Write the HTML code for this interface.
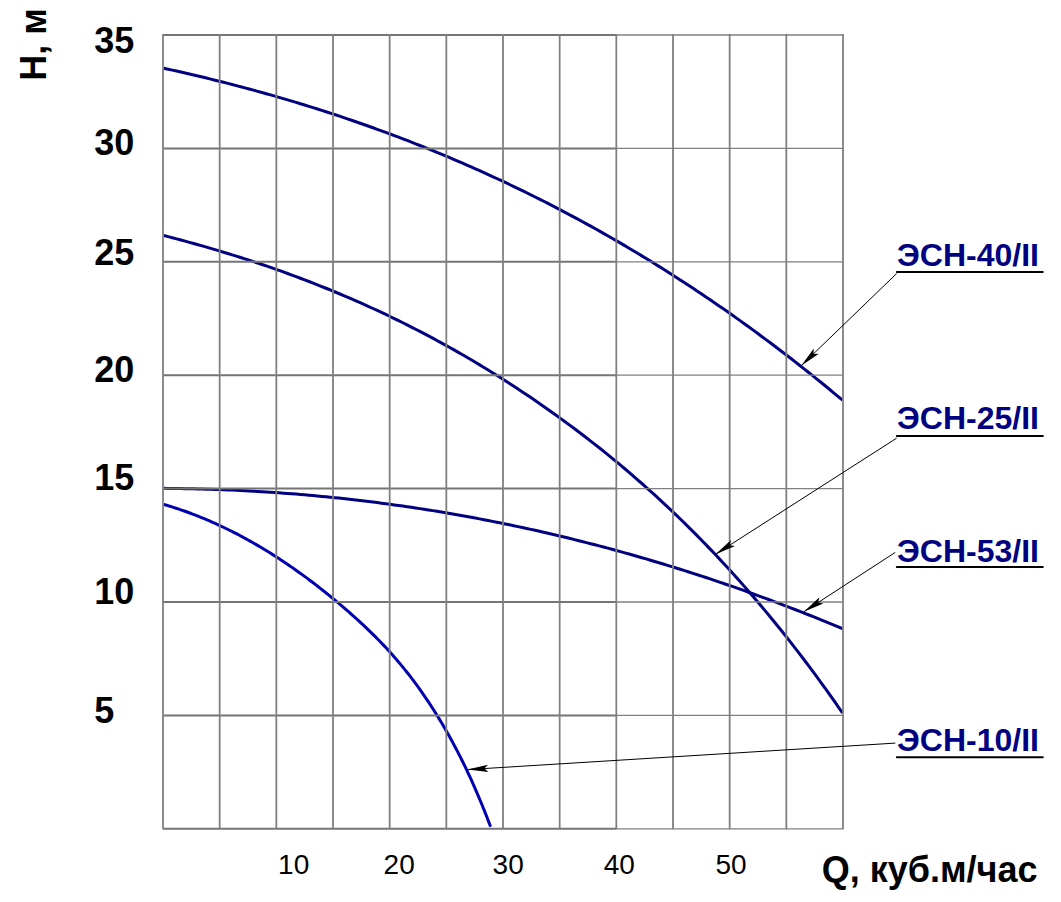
<!DOCTYPE html>
<html><head><meta charset="utf-8"><style>
html,body{margin:0;padding:0;background:#fff;}
body{width:1061px;height:902px;overflow:hidden;}
svg{display:block;}
text{font-family:"Liberation Sans",sans-serif;}
.b{font-weight:bold;}
</style></head><body>
<svg width="1061" height="902" viewBox="0 0 1061 902">
<path d="M163.80,68.25 L168.07,69.18 L172.34,70.13 L176.61,71.08 L180.87,72.05 L185.14,73.03 L189.41,74.01 L193.68,75.01 L197.95,76.02 L202.22,77.04 L206.49,78.07 L210.75,79.11 L215.02,80.17 L219.29,81.23 L223.56,82.31 L227.83,83.39 L232.10,84.49 L236.37,85.60 L240.63,86.72 L244.90,87.86 L249.17,89.00 L253.44,90.16 L257.71,91.33 L261.98,92.51 L266.25,93.71 L270.51,94.92 L274.78,96.13 L279.05,97.37 L283.32,98.61 L287.59,99.87 L291.86,101.13 L296.13,102.42 L300.39,103.71 L304.66,105.02 L308.93,106.34 L313.20,107.67 L317.47,109.02 L321.74,110.38 L326.01,111.75 L330.27,113.14 L334.54,114.54 L338.81,115.95 L343.08,117.38 L347.35,118.82 L351.62,120.27 L355.88,121.74 L360.15,123.22 L364.42,124.72 L368.69,126.23 L372.96,127.75 L377.23,129.29 L381.50,130.85 L385.76,132.41 L390.03,134.00 L394.30,135.59 L398.57,137.20 L402.84,138.83 L407.11,140.47 L411.38,142.13 L415.64,143.80 L419.91,145.48 L424.18,147.18 L428.45,148.90 L432.72,150.63 L436.99,152.38 L441.26,154.14 L445.52,155.92 L449.79,157.71 L454.06,159.52 L458.33,161.34 L462.60,163.18 L466.87,165.04 L471.14,166.91 L475.40,168.80 L479.67,170.71 L483.94,172.63 L488.21,174.57 L492.48,176.52 L496.75,178.49 L501.02,180.48 L505.28,182.48 L509.55,184.50 L513.82,186.54 L518.09,188.59 L522.36,190.66 L526.63,192.75 L530.90,194.86 L535.16,196.98 L539.43,199.12 L543.70,201.27 L547.97,203.45 L552.24,205.64 L556.51,207.85 L560.78,210.08 L565.04,212.32 L569.31,214.58 L573.58,216.86 L577.85,219.16 L582.12,221.48 L586.39,223.82 L590.66,226.17 L594.92,228.54 L599.19,230.93 L603.46,233.34 L607.73,235.77 L612.00,238.21 L616.27,240.67 L620.54,243.16 L624.80,245.66 L629.07,248.18 L633.34,250.72 L637.61,253.28 L641.88,255.86 L646.15,258.46 L650.42,261.07 L654.68,263.71 L658.95,266.36 L663.22,269.04 L667.49,271.74 L671.76,274.45 L676.03,277.19 L680.29,279.94 L684.56,282.71 L688.83,285.51 L693.10,288.32 L697.37,291.16 L701.64,294.01 L705.91,296.89 L710.17,299.79 L714.44,302.70 L718.71,305.64 L722.98,308.60 L727.25,311.58 L731.52,314.58 L735.79,317.60 L740.05,320.64 L744.32,323.70 L748.59,326.79 L752.86,329.89 L757.13,333.02 L761.40,336.17 L765.67,339.34 L769.93,342.53 L774.20,345.74 L778.47,348.98 L782.74,352.23 L787.01,355.51 L791.28,358.81 L795.55,362.14 L799.81,365.48 L804.08,368.85 L808.35,372.24 L812.62,375.65 L816.89,379.08 L821.16,382.54 L825.43,386.02 L829.69,389.52 L833.96,393.04 L838.23,396.59 L842.50,400.16" stroke="#000080" stroke-width="3" fill="none"/>
<path d="M163.80,235.56 L168.07,236.65 L172.34,237.76 L176.61,238.88 L180.87,240.02 L185.14,241.17 L189.41,242.33 L193.68,243.51 L197.95,244.71 L202.22,245.91 L206.49,247.14 L210.75,248.38 L215.02,249.63 L219.29,250.90 L223.56,252.19 L227.83,253.49 L232.10,254.81 L236.37,256.14 L240.63,257.49 L244.90,258.86 L249.17,260.24 L253.44,261.64 L257.71,263.06 L261.98,264.50 L266.25,265.95 L270.51,267.42 L274.78,268.91 L279.05,270.42 L283.32,271.94 L287.59,273.49 L291.86,275.05 L296.13,276.63 L300.39,278.23 L304.66,279.85 L308.93,281.49 L313.20,283.15 L317.47,284.83 L321.74,286.52 L326.01,288.24 L330.27,289.98 L334.54,291.74 L338.81,293.51 L343.08,295.31 L347.35,297.13 L351.62,298.97 L355.88,300.84 L360.15,302.72 L364.42,304.63 L368.69,306.55 L372.96,308.50 L377.23,310.47 L381.50,312.47 L385.76,314.48 L390.03,316.52 L394.30,318.58 L398.57,320.67 L402.84,322.77 L407.11,324.90 L411.38,327.06 L415.64,329.23 L419.91,331.44 L424.18,333.66 L428.45,335.91 L432.72,338.19 L436.99,340.48 L441.26,342.81 L445.52,345.16 L449.79,347.53 L454.06,349.93 L458.33,352.35 L462.60,354.80 L466.87,357.28 L471.14,359.78 L475.40,362.30 L479.67,364.86 L483.94,367.44 L488.21,370.04 L492.48,372.68 L496.75,375.34 L501.02,378.03 L505.28,380.74 L509.55,383.48 L513.82,386.25 L518.09,389.05 L522.36,391.88 L526.63,394.73 L530.90,397.61 L535.16,400.52 L539.43,403.46 L543.70,406.43 L547.97,409.43 L552.24,412.46 L556.51,415.51 L560.78,418.60 L565.04,421.72 L569.31,424.86 L573.58,428.04 L577.85,431.25 L582.12,434.49 L586.39,437.76 L590.66,441.07 L594.92,444.41 L599.19,447.78 L603.46,451.19 L607.73,454.63 L612.00,458.11 L616.27,461.62 L620.54,465.18 L624.80,468.76 L629.07,472.39 L633.34,476.05 L637.61,479.76 L641.88,483.50 L646.15,487.28 L650.42,491.10 L654.68,494.96 L658.95,498.86 L663.22,502.81 L667.49,506.80 L671.76,510.83 L676.03,514.90 L680.29,519.02 L684.56,523.18 L688.83,527.38 L693.10,531.64 L697.37,535.93 L701.64,540.28 L705.91,544.67 L710.17,549.10 L714.44,553.59 L718.71,558.12 L722.98,562.71 L727.25,567.34 L731.52,572.02 L735.79,576.75 L740.05,581.54 L744.32,586.37 L748.59,591.26 L752.86,596.20 L757.13,601.19 L761.40,606.24 L765.67,611.34 L769.93,616.50 L774.20,621.71 L778.47,626.97 L782.74,632.29 L787.01,637.67 L791.28,643.11 L795.55,648.60 L799.81,654.15 L804.08,659.76 L808.35,665.43 L812.62,671.16 L816.89,676.95 L821.16,682.80 L825.43,688.71 L829.69,694.69 L833.96,700.72 L838.23,706.82 L842.50,712.98" stroke="#000080" stroke-width="3" fill="none"/>
<path d="M163.80,488.37 L168.07,488.40 L172.34,488.45 L176.61,488.50 L180.87,488.56 L185.14,488.63 L189.41,488.71 L193.68,488.81 L197.95,488.91 L202.22,489.02 L206.49,489.14 L210.75,489.28 L215.02,489.42 L219.29,489.58 L223.56,489.74 L227.83,489.91 L232.10,490.10 L236.37,490.29 L240.63,490.50 L244.90,490.72 L249.17,490.94 L253.44,491.18 L257.71,491.43 L261.98,491.68 L266.25,491.95 L270.51,492.23 L274.78,492.52 L279.05,492.82 L283.32,493.13 L287.59,493.45 L291.86,493.78 L296.13,494.12 L300.39,494.47 L304.66,494.83 L308.93,495.20 L313.20,495.59 L317.47,495.98 L321.74,496.39 L326.01,496.80 L330.27,497.23 L334.54,497.66 L338.81,498.11 L343.08,498.57 L347.35,499.03 L351.62,499.51 L355.88,500.00 L360.15,500.50 L364.42,501.01 L368.69,501.53 L372.96,502.07 L377.23,502.61 L381.50,503.16 L385.76,503.73 L390.03,504.30 L394.30,504.89 L398.57,505.48 L402.84,506.09 L407.11,506.71 L411.38,507.34 L415.64,507.98 L419.91,508.63 L424.18,509.29 L428.45,509.96 L432.72,510.64 L436.99,511.34 L441.26,512.04 L445.52,512.76 L449.79,513.49 L454.06,514.22 L458.33,514.97 L462.60,515.73 L466.87,516.50 L471.14,517.28 L475.40,518.08 L479.67,518.88 L483.94,519.69 L488.21,520.52 L492.48,521.36 L496.75,522.20 L501.02,523.06 L505.28,523.93 L509.55,524.81 L513.82,525.71 L518.09,526.61 L522.36,527.52 L526.63,528.45 L530.90,529.39 L535.16,530.33 L539.43,531.29 L543.70,532.26 L547.97,533.24 L552.24,534.24 L556.51,535.24 L560.78,536.26 L565.04,537.28 L569.31,538.32 L573.58,539.37 L577.85,540.43 L582.12,541.50 L586.39,542.58 L590.66,543.68 L594.92,544.78 L599.19,545.90 L603.46,547.03 L607.73,548.17 L612.00,549.32 L616.27,550.48 L620.54,551.65 L624.80,552.84 L629.07,554.03 L633.34,555.24 L637.61,556.46 L641.88,557.69 L646.15,558.93 L650.42,560.19 L654.68,561.45 L658.95,562.73 L663.22,564.02 L667.49,565.32 L671.76,566.63 L676.03,567.95 L680.29,569.28 L684.56,570.63 L688.83,571.99 L693.10,573.36 L697.37,574.74 L701.64,576.13 L705.91,577.53 L710.17,578.95 L714.44,580.38 L718.71,581.82 L722.98,583.27 L727.25,584.73 L731.52,586.20 L735.79,587.69 L740.05,589.19 L744.32,590.70 L748.59,592.22 L752.86,593.75 L757.13,595.29 L761.40,596.85 L765.67,598.42 L769.93,600.00 L774.20,601.59 L778.47,603.19 L782.74,604.81 L787.01,606.44 L791.28,608.08 L795.55,609.73 L799.81,611.39 L804.08,613.06 L808.35,614.75 L812.62,616.45 L816.89,618.16 L821.16,619.88 L825.43,621.62 L829.69,623.36 L833.96,625.12 L838.23,626.89 L842.50,628.68" stroke="#000080" stroke-width="3" fill="none"/>
<path d="M163.80,504.44 L165.86,505.04 L167.91,505.65 L169.97,506.28 L172.02,506.92 L174.08,507.57 L176.13,508.24 L178.19,508.92 L180.24,509.61 L182.30,510.32 L184.35,511.04 L186.41,511.77 L188.46,512.52 L190.52,513.28 L192.57,514.05 L194.63,514.84 L196.69,515.64 L198.74,516.45 L200.80,517.28 L202.85,518.12 L204.91,518.97 L206.96,519.84 L209.02,520.72 L211.07,521.61 L213.13,522.52 L215.18,523.44 L217.24,524.37 L219.29,525.32 L221.35,526.28 L223.41,527.25 L225.46,528.24 L227.52,529.24 L229.57,530.25 L231.63,531.28 L233.68,532.32 L235.74,533.37 L237.79,534.44 L239.85,535.52 L241.90,536.61 L243.96,537.72 L246.01,538.84 L248.07,539.97 L250.12,541.12 L252.18,542.28 L254.24,543.45 L256.29,544.64 L258.35,545.84 L260.40,547.05 L262.46,548.28 L264.51,549.52 L266.57,550.78 L268.62,552.04 L270.68,553.33 L272.73,554.62 L274.79,555.93 L276.84,557.25 L278.90,558.58 L280.95,559.93 L283.01,561.29 L285.07,562.67 L287.12,564.05 L289.18,565.46 L291.23,566.87 L293.29,568.30 L295.34,569.74 L297.40,571.20 L299.45,572.67 L301.51,574.15 L303.56,575.64 L305.62,577.15 L307.67,578.67 L309.73,580.21 L311.78,581.76 L313.84,583.32 L315.90,584.90 L317.95,586.49 L320.01,588.09 L322.06,589.71 L324.12,591.34 L326.17,592.98 L328.23,594.64 L330.28,596.31 L332.34,597.99 L334.39,599.69 L336.45,601.40 L338.50,603.13 L340.56,604.86 L342.62,606.61 L344.67,608.38 L346.73,610.16 L348.78,611.95 L350.84,613.75 L352.89,615.57 L354.95,617.41 L357.00,619.26 L359.06,621.14 L361.11,623.03 L363.17,624.94 L365.22,626.87 L367.28,628.82 L369.33,630.80 L371.39,632.80 L373.45,634.82 L375.50,636.87 L377.56,638.95 L379.61,641.06 L381.67,643.19 L383.72,645.36 L385.78,647.55 L387.83,649.78 L389.89,652.04 L391.94,654.34 L394.00,656.67 L396.05,659.03 L398.11,661.44 L400.16,663.88 L402.22,666.36 L404.28,668.88 L406.33,671.45 L408.39,674.05 L410.44,676.70 L412.50,679.39 L414.55,682.13 L416.61,684.91 L418.66,687.74 L420.72,690.62 L422.77,693.55 L424.83,696.53 L426.88,699.56 L428.94,702.64 L430.99,705.78 L433.05,708.97 L435.11,712.21 L437.16,715.52 L439.22,718.87 L441.27,722.29 L443.33,725.77 L445.38,729.31 L447.44,732.91 L449.49,736.57 L451.55,740.30 L453.60,744.09 L455.66,747.96 L457.71,751.90 L459.77,755.91 L461.83,760.00 L463.88,764.18 L465.94,768.43 L467.99,772.77 L470.05,777.20 L472.10,781.72 L474.16,786.33 L476.21,791.03 L478.27,795.83 L480.32,800.74 L482.38,805.74 L484.43,810.85 L486.49,816.06 L488.54,821.39 L490.60,826.82" stroke="#0000b0" stroke-width="3" fill="none"/>
<path d="M163.00,35.00 H616.33 M163.00,148.40 H616.33 M163.00,261.80 H616.33 M163.00,375.20 H616.33 M163.00,488.60 H616.33 M163.00,602.00 H616.33 M163.00,715.40 H616.33 M163.00,828.80 H616.33" stroke="#757575" stroke-width="2.0" fill="none"/>
<path d="M616.33,35.00 H843.00 M616.33,148.40 H843.00 M616.33,261.80 H843.00 M616.33,375.20 H843.00 M616.33,488.60 H843.00 M616.33,602.00 H843.00 M616.33,715.40 H843.00 M616.33,828.80 H843.00" stroke="#808080" stroke-width="1.3" fill="none"/>
<path d="M163.00,34.00 V829.30 M219.67,34.00 V829.30 M276.33,34.00 V829.30 M333.00,34.00 V829.30 M389.67,34.00 V829.30 M446.33,34.00 V829.30 M503.00,34.00 V829.30 M559.67,34.00 V829.30 M616.33,34.00 V829.30 M673.00,34.00 V829.30 M729.67,34.00 V829.30 M786.33,34.00 V829.30 M843.00,34.00 V829.30" stroke="#808080" stroke-width="1.8" fill="none"/>
<text class="b" x="94.2" y="53.0" font-size="36" fill="#000">35</text>
<text class="b" x="94.2" y="155.0" font-size="36" fill="#000">30</text>
<text class="b" x="94.2" y="264.6" font-size="36" fill="#000">25</text>
<text class="b" x="94.2" y="381.6" font-size="36" fill="#000">20</text>
<text class="b" x="94.2" y="489.7" font-size="36" fill="#000">15</text>
<text class="b" x="94.2" y="604.4" font-size="36" fill="#000">10</text>
<text class="b" x="94.2" y="723.0" font-size="36" fill="#000">5</text>
<text x="278.1" y="873.8" font-size="28" fill="#000">10</text>
<text x="383.6" y="873.8" font-size="28" fill="#000">20</text>
<text x="492.6" y="873.8" font-size="28" fill="#000">30</text>
<text x="603.8" y="873.8" font-size="28" fill="#000">40</text>
<text x="715.4" y="873.8" font-size="28" fill="#000">50</text>
<text class="b" x="821.7" y="882.0" font-size="36" fill="#000">Q, куб.м/час</text>
<text class="b" transform="translate(45.5,80.7) rotate(-90)" x="0" y="0" font-size="36" fill="#000">H, м</text>
<text class="b" x="897.1" y="265.5" font-size="32" fill="#000080">ЭСН-40/II</text>
<line x1="896.8" y1="272.00" x2="1042.8" y2="272.00" stroke="#000" stroke-width="2" stroke-linecap="round"/>
<line x1="896.6" y1="273.6" x2="801.2" y2="365.7" stroke="#000" stroke-width="1.0"/>
<path d="M801.20,365.70 L818.81,353.70 L813.43,353.89 L813.81,348.52 Z" fill="#000"/>
<text class="b" x="897.1" y="429.0" font-size="32" fill="#000080">ЭСН-25/II</text>
<line x1="896.8" y1="436.00" x2="1042.8" y2="436.00" stroke="#000" stroke-width="2" stroke-linecap="round"/>
<line x1="896.6" y1="438.2" x2="715.3" y2="554.4" stroke="#000" stroke-width="1.0"/>
<path d="M715.30,554.40 L734.92,546.10 L729.61,545.23 L731.04,540.04 Z" fill="#000"/>
<text class="b" x="897.1" y="561.6" font-size="32" fill="#000080">ЭСН-53/II</text>
<line x1="896.8" y1="566.90" x2="1042.8" y2="566.90" stroke="#000" stroke-width="2" stroke-linecap="round"/>
<line x1="895.3" y1="552.4" x2="803.8" y2="611.8" stroke="#000" stroke-width="1.0"/>
<path d="M803.80,611.80 L823.37,603.38 L818.06,602.54 L819.45,597.35 Z" fill="#000"/>
<text class="b" x="897.1" y="751.3" font-size="32" fill="#000080">ЭСН-10/II</text>
<line x1="896.8" y1="757.30" x2="1042.8" y2="757.30" stroke="#000" stroke-width="2" stroke-linecap="round"/>
<line x1="895.3" y1="743.1" x2="467.3" y2="769.6" stroke="#000" stroke-width="1.0"/>
<path d="M467.30,769.60 L488.48,771.90 L484.27,768.55 L488.04,764.71 Z" fill="#000"/>
</svg></body></html>
